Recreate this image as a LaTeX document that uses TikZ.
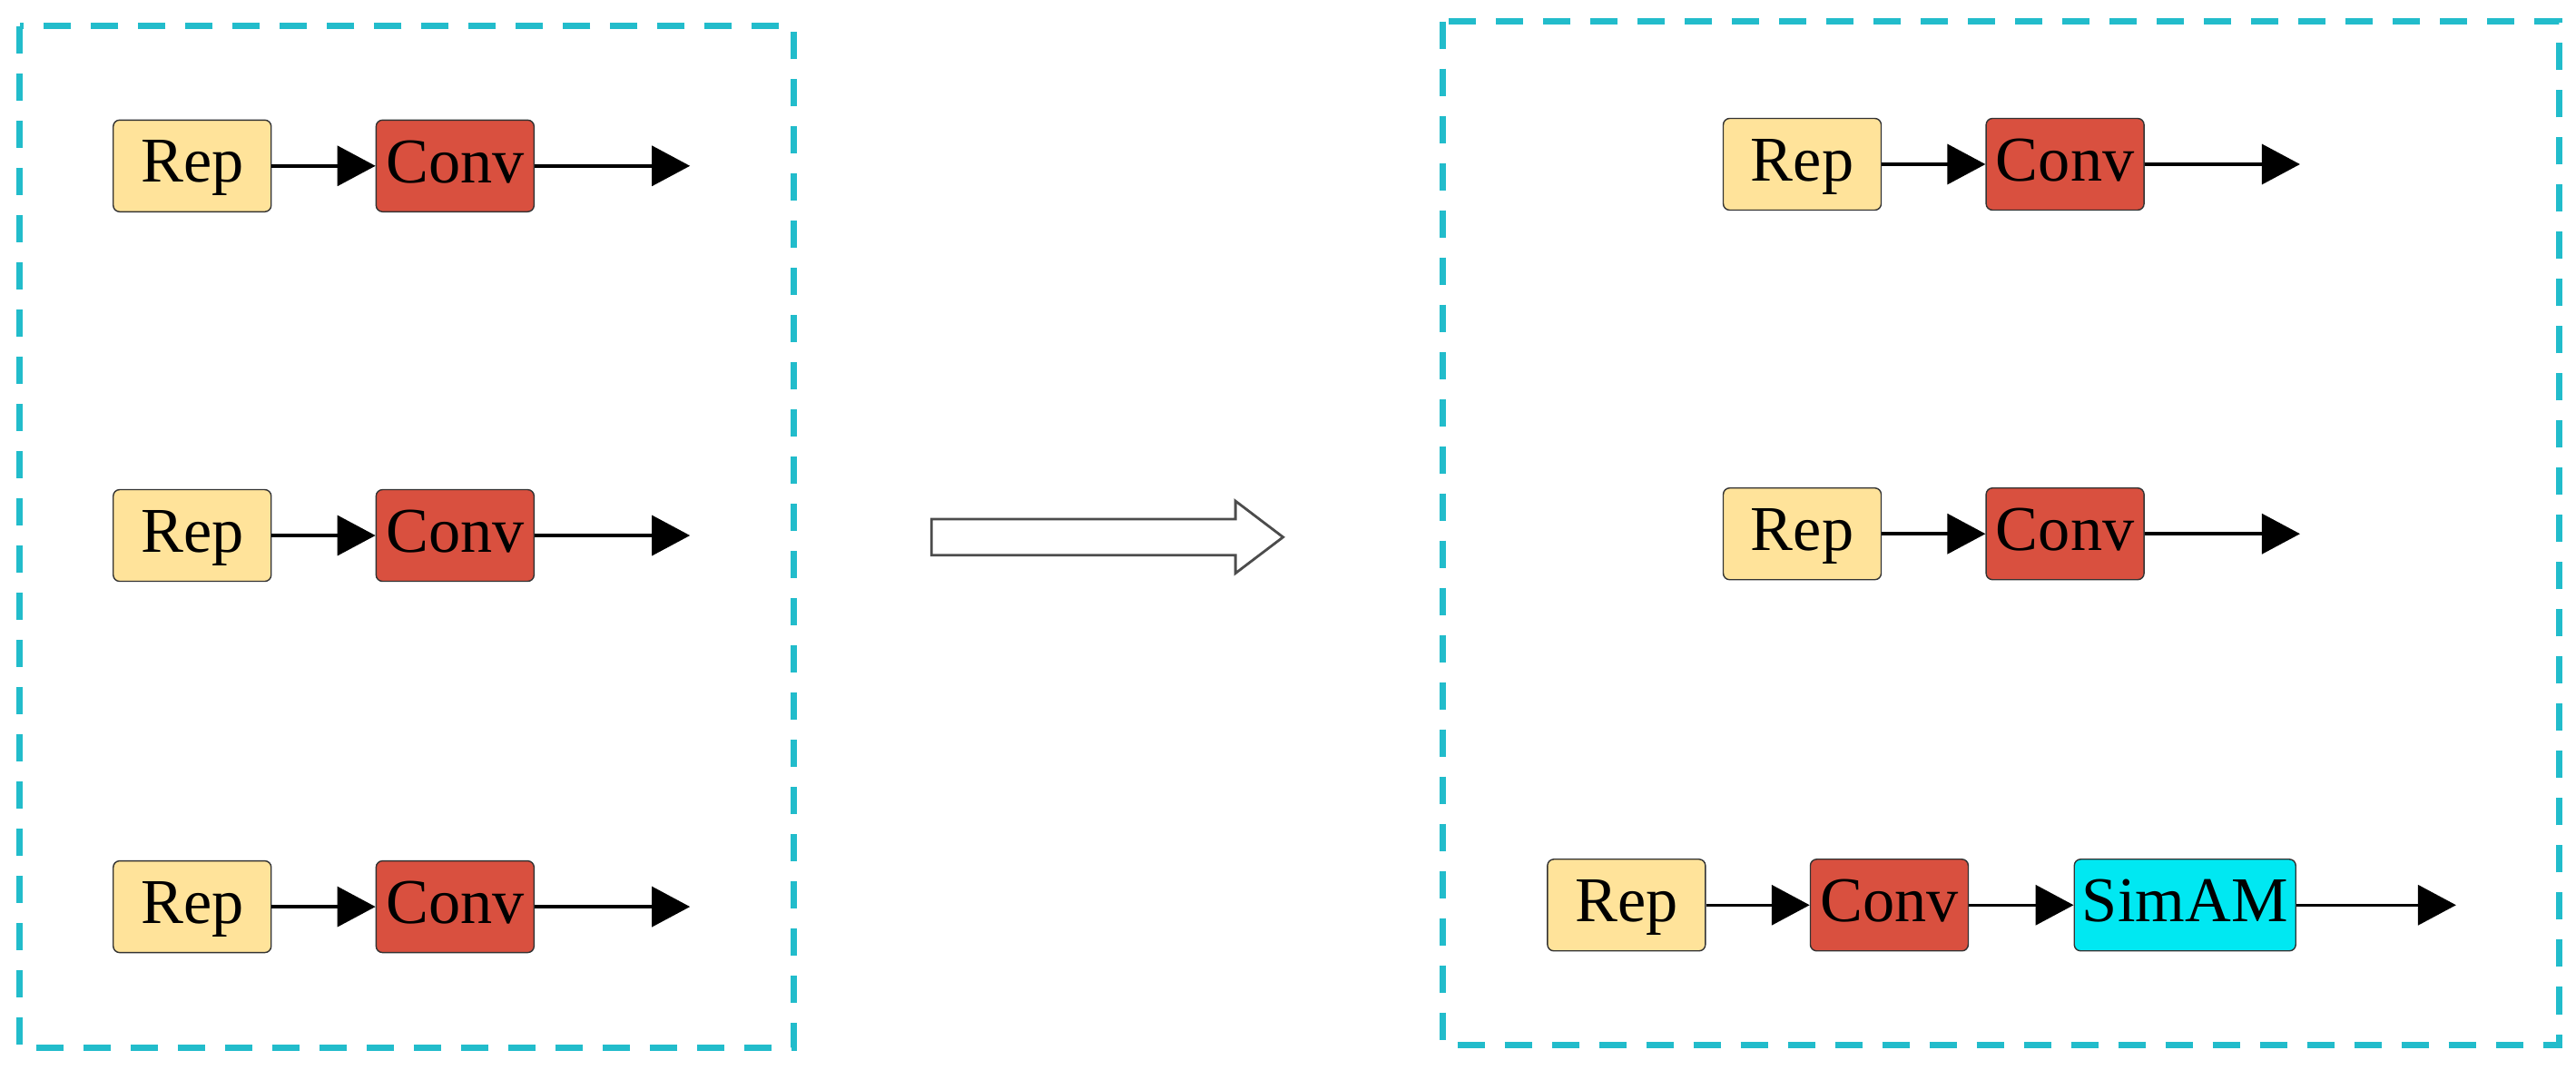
\documentclass[tikz,border=0pt]{standalone}
\usepackage{fontspec}
\setmainfont{Liberation Serif}
\usetikzlibrary{arrows.meta}
\definecolor{repfill}{HTML}{FFE39A}
\definecolor{convfill}{HTML}{D9503F}
\definecolor{simfill}{HTML}{00E8F2}
\definecolor{frame}{HTML}{22BCCB}
\tikzset{
    blk/.style={draw=black!80, rounded corners=2pt, minimum width=1.74cm, minimum height=1.01cm, inner sep=0pt, font=\fontsize{20}{24}\selectfont, text depth=0.1cm},
    rep/.style={blk, fill=repfill},
    conv/.style={blk, fill=convfill},
    sim/.style={blk, fill=simfill, minimum width=2.44cm},
    flow/.style={-{Triangle[length=0.42cm,width=0.44cm]}, line width=1pt},
    group/.style={draw=frame, dashed, line width=2pt, dash pattern=on 0.3cm off 0.22cm}
}
\begin{document}
\begin{tikzpicture}[x=0.181mm, y=-0.181mm]
            \useasboundingbox (0,0) rectangle (1568,651);

            %frames
            \draw[group] (12,16) rectangle (483,638);
            \draw[group] (878,13) rectangle (1558,636);

            %left side
            \foreach \r/\y in {1/101, 2/326, 3/552}{
                \node[rep] (lr\r) at (117,\y) {Rep};
                \node[conv] (lc\r) at (277,\y) {Conv};
                \coordinate (lo\r) at (420,\y);
                \draw[flow] (lr\r) -- (lc\r);
                \draw[flow] (lc\r) -- (lo\r);
            };

            %right side
            \foreach \r/\y in {1/100, 2/325}{
                \node[rep] (rr\r) at (1097,\y) {Rep};
                \node[conv] (rc\r) at (1257,\y) {Conv};
                \coordinate (ro\r) at (1400,\y);
                \draw[flow] (rr\r) -- (rc\r);
                \draw[flow] (rc\r) -- (ro\r);
            };
            \node[rep] (rr3) at (990,551) {Rep};
            \node[conv] (rc3) at (1150,551) {Conv};
            \node[sim] (rs3) at (1330,551) {SimAM};
            \coordinate (ro3) at (1495,551);
            \draw[flow] (rr3) -- (rc3);
            \draw[flow] (rc3) -- (rs3);
            \draw[flow] (rs3) -- (ro3);

            %transition
            \draw[black!70, fill=white, line width=0.8pt] (567,316) -- (752,316) -- (752,305) -- (781,327) -- (752,349) -- (752,338) -- (567,338) -- cycle;
\end{tikzpicture}
\end{document}
